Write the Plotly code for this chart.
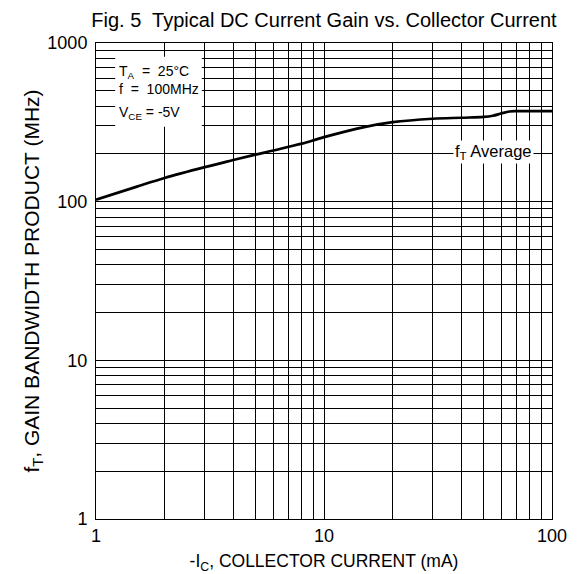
import plotly.graph_objects as go

# Data
ic_ma = [1, 1.5, 2, 3, 4, 5, 6, 7, 8, 10, 15, 20, 30, 40, 50, 55, 60, 65, 70, 100]
ft_mhz = [103, 124, 141, 165, 183, 198, 210, 222, 232, 255, 295, 317, 333, 338, 342, 348, 360, 370, 372, 372]

x_major = [1, 10, 100]
x_minor = [2, 3, 4, 5, 6, 7, 8, 9, 20, 30, 40, 50, 60, 70, 80, 90]
y_major = [1, 10, 100, 1000]
y_minor = [2, 3, 4, 5, 6, 7, 8, 9, 20, 30, 40, 50, 60, 70, 80, 90,
           200, 300, 400, 500, 600, 700, 800, 900]

FONT = "Liberation Sans, Arial, sans-serif"

fig = go.Figure()
fig.add_trace(go.Scatter(x=ic_ma, y=ft_mhz, mode="lines",
                         line=dict(color="black", width=2.7, shape="spline"),
                         showlegend=False, hoverinfo="skip"))

axis_common = dict(
    type="log",
    showgrid=True, gridcolor="black", gridwidth=1,
    showline=True, linecolor="black", linewidth=1, mirror=True,
    ticks="", zeroline=False, automargin=False,
    tickfont=dict(family=FONT, size=18, color="black"),
)

fig.update_xaxes(
    **axis_common,
    range=[0, 2],
    tickvals=x_major, ticktext=[str(v) for v in x_major],
    minor=dict(tickvals=x_minor, showgrid=True, gridcolor="black", gridwidth=1, ticks=""),
    title=dict(text="-I<sub>C</sub>, COLLECTOR CURRENT (mA)",
               font=dict(family=FONT, size=17.5, color="black"), standoff=14),
)
fig.update_yaxes(
    **axis_common,
    range=[0, 3],
    ticklabelstandoff=4,
    tickvals=y_major, ticktext=[str(v) for v in y_major],
    minor=dict(tickvals=y_minor, showgrid=True, gridcolor="black", gridwidth=1, ticks=""),
    title=dict(text="f<sub>T</sub>, GAIN BANDWIDTH PRODUCT (MHz)",
               font=dict(family=FONT, size=21, color="black"), standoff=2),
)

# white box behind conditions text
fig.add_shape(type="rect", xref="paper", yref="paper",
              x0=0.042, x1=0.232, y0=0.824, y1=0.971,
              fillcolor="white", line=dict(width=0), layer="above")

cond_font = dict(family=FONT, size=14, color="black")
fig.add_annotation(xref="paper", yref="paper", x=0.046, y=0.939, xanchor="left", yanchor="middle",
                   text="T<sub>A</sub>  =  25°C", showarrow=False, font=cond_font)
fig.add_annotation(xref="paper", yref="paper", x=0.046, y=0.903, xanchor="left", yanchor="middle",
                   text="f  =  100MHz", showarrow=False, font=cond_font)
fig.add_annotation(xref="paper", yref="paper", x=0.046, y=0.853, xanchor="left", yanchor="middle",
                   text="V<sub>CE</sub> = -5V", showarrow=False, font=cond_font)

fig.add_annotation(xref="paper", yref="paper", x=0.871, y=0.771, xanchor="center", yanchor="middle",
                   text="f<sub>T</sub> Average", showarrow=False, bgcolor="white",
                   font=dict(family=FONT, size=16.5, color="black"))

fig.update_layout(
    width=577, height=566,
    margin=dict(l=88, r=33, t=35, b=55),
    paper_bgcolor="white", plot_bgcolor="white",
    title=dict(text="Fig. 5  Typical DC Current Gain vs. Collector Current",
               x=0.5, xref="paper", y=0.979, yref="container", xanchor="center", yanchor="middle",
               font=dict(family=FONT, size=20, color="black")),
)

fig.write_html("out.html")
